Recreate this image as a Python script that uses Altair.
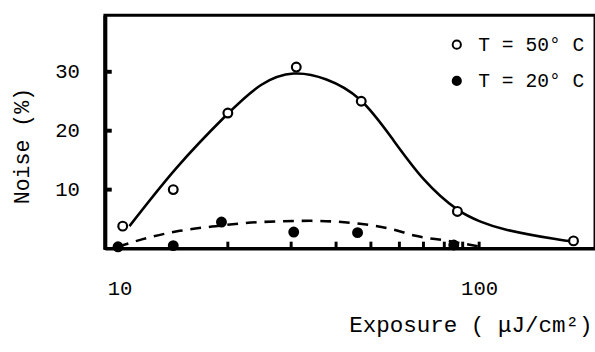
import altair as alt
import pandas as pd

# Measured points
exposure_50 = [10.2, 14.1, 20.0, 31.0, 47.0, 87.0, 183.0]
noise_50 = [3.8, 10.0, 23.0, 30.8, 25.0, 6.3, 1.3]
exposure_20 = [9.9, 14.1, 19.2, 30.5, 45.9, 85.0]
noise_20 = [0.3, 0.5, 4.5, 2.8, 2.7, 0.6]

# Fitted curves
curve50_x = [10.65, 14.4, 19.7, 24.8, 30.5, 37.6, 46.6, 57.1, 70.3, 87.1, 100.7, 119.0, 163.0, 183.0]
curve50_y = [3.8, 13.7, 22.5, 27.8, 29.7, 28.7, 25.3, 18.8, 11.7, 6.6, 4.6, 3.2, 1.6, 1.2]
curve20_x = [9.9, 11.6, 14.7, 18.5, 24.8, 34.0, 46.6, 57.1, 66.0, 81.8, 100.7]
curve20_y = [0.3, 1.6, 3.0, 3.8, 4.5, 4.7, 4.2, 3.3, 2.2, 1.3, 0.3]

series_names = ["T = 50° C", "T = 20° C"]
x_minor_ticks = [20, 30, 40, 50, 60, 70, 80, 90, 100]
y_ticks = [10, 20, 30]
x_labels = [10, 100]

FONT = "Liberation Mono"
W, H = 500, 238

pts = pd.DataFrame({
    "exposure": exposure_50 + exposure_20,
    "noise": noise_50 + noise_20,
    "series": [series_names[0]] * len(exposure_50) + [series_names[1]] * len(exposure_20),
})
c50 = pd.DataFrame({"exposure": curve50_x, "noise": curve50_y})
c20 = pd.DataFrame({"exposure": curve20_x, "noise": curve20_y})
xt = pd.DataFrame({"t": x_minor_ticks})
yt = pd.DataFrame({"t": y_ticks})

xscale = alt.Scale(type="log", domain=[9.1, 210], nice=False)
yscale = alt.Scale(domain=[0, 39.6], nice=False, zero=False)

xaxis = alt.Axis(
    values=x_labels, ticks=False, tickSize=0, grid=False, labelPadding=30,
    labelFont=FONT, labelFontSize=21, labelColor="black", labelFlush=False,
    domainColor="black", domainWidth=3,
    title="Exposure ( μJ/cm²)", titleFont=FONT, titleFontSize=23, titleFontWeight="normal",
    titleColor="black", titleX=497, titleY=85, titleAlign="right", titleBaseline="alphabetic",
)
yaxis = alt.Axis(
    values=y_ticks, ticks=False, tickSize=0, grid=False, labelPadding=26,
    labelFont=FONT, labelFontSize=21, labelColor="black",
    domainColor="black", domainWidth=4,
    title="Noise (%)", titleFont=FONT, titleFontSize=22, titleFontWeight="normal",
    titleColor="black", titleX=-85, titleY=133, titleAlign="center", titleBaseline="middle",
    titleAngle=270,
)

line50 = alt.Chart(c50).mark_line(color="black", strokeWidth=2.6, interpolate="natural").encode(
    x=alt.X("exposure:Q", scale=xscale, axis=xaxis),
    y=alt.Y("noise:Q", scale=yscale, axis=yaxis),
)
line20 = alt.Chart(c20).mark_line(color="black", strokeWidth=2.6, strokeDash=[11, 8], interpolate="monotone").encode(
    x=alt.X("exposure:Q", scale=xscale),
    y=alt.Y("noise:Q", scale=yscale),
)
points = alt.Chart(pts).mark_point(filled=True, size=80, stroke="black", strokeWidth=2.2, opacity=1).encode(
    x=alt.X("exposure:Q", scale=xscale),
    y=alt.Y("noise:Q", scale=yscale),
    fill=alt.Fill("series:N", scale=alt.Scale(domain=series_names, range=["white", "black"]),
                  legend=alt.Legend(title=None, orient="none", legendX=349, legendY=20,
                                    symbolType="circle", symbolSize=70, symbolStrokeColor="black",
                                    symbolStrokeWidth=2, labelFont=FONT, labelFontSize=20,
                                    labelColor="black", labelOffset=12, rowPadding=17,
                                    padding=0)),
)
xticks = alt.Chart(xt).mark_rule(color="black", strokeWidth=3).encode(
    x=alt.X("t:Q", scale=xscale), y=alt.value(H), y2=alt.value(H - 7),
)
yticks = alt.Chart(yt).mark_rule(color="black", strokeWidth=4).encode(
    y=alt.Y("t:Q", scale=yscale), x=alt.value(0), x2=alt.value(7),
)

chart = alt.layer(line50, line20, xticks, yticks, points).properties(
    width=W, height=H,
    autosize=alt.AutoSizeParams(type="none"),
    padding={"left": 107, "top": 12, "right": 0, "bottom": 102},
    background="white",
).configure_view(stroke="black", strokeWidth=3)

chart.save("out.html", embed_options={"renderer": "svg", "actions": False})
